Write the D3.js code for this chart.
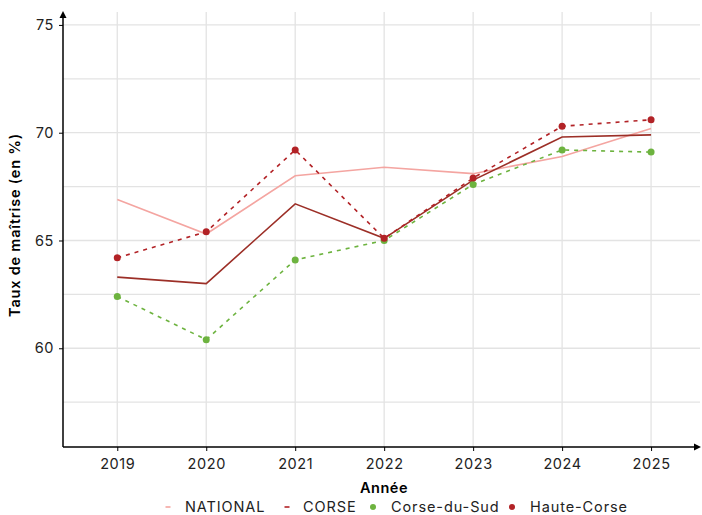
<!DOCTYPE html>
<html><head><meta charset="utf-8">
<script src="https://cdn.jsdelivr.net/npm/d3@7"></script>
<style>
body{margin:0;background:#fff;}
text{font-family:Inter, "Open Sans", sans-serif;}
</style></head>
<body><svg id="c" width="702" height="515"></svg>
<script>
const years = [2019, 2020, 2021, 2022, 2023, 2024, 2025];
const national = [66.9, 65.3, 68.0, 68.4, 68.1, 68.9, 70.2];
const corse = [63.3, 63.0, 66.7, 65.1, 67.8, 69.8, 69.9];
const corseDuSud = [62.4, 60.4, 64.1, 65.0, 67.6, 69.2, 69.1];
const hauteCorse = [64.2, 65.4, 69.2, 65.1, 67.9, 70.3, 70.6];
const yTicks = [60, 65, 70, 75];
const yMinor = [57.5, 62.5, 67.5, 72.5];
const legendLabels = ["NATIONAL", "CORSE", "Corse-du-Sud", "Haute-Corse"];

const svg = d3.select("#c");
const L = 63, R = 700, T = 12, B = 447;
const x = d3.scaleLinear().domain([2018.39, 2025.55]).range([L, R]);
const y = d3.scaleLinear().domain([55.42, 75.6]).range([B, T]);

const grid = svg.append("g");
[...yTicks, ...yMinor].forEach(v => {
  grid.append("line").attr("x1", L).attr("x2", R).attr("y1", y(v)).attr("y2", y(v))
    .attr("stroke", "#e3e3e3").attr("stroke-width", 1.3);
});
years.forEach(v => {
  grid.append("line").attr("x1", x(v)).attr("x2", x(v)).attr("y1", T).attr("y2", B)
    .attr("stroke", "#e3e3e3").attr("stroke-width", 1.3);
});

const line = d3.line().x((d, i) => x(years[i])).y(d => y(d));
const series = [
  {vals: national, color: "#f4a5a1", dash: null, pts: false},
  {vals: corse, color: "#9c2f27", dash: null, pts: false},
  {vals: corseDuSud, color: "#6db33f", dash: "4,5", pts: true},
  {vals: hauteCorse, color: "#b22226", dash: "4,5", pts: true}
];
series.forEach(s => {
  svg.append("path").attr("d", line(s.vals)).attr("fill", "none")
    .attr("stroke", s.color).attr("stroke-width", 1.6)
    .attr("stroke-dasharray", s.dash);
  if (s.pts) {
    svg.selectAll(null).data(s.vals).enter().append("circle")
      .attr("cx", (d, i) => x(years[i])).attr("cy", d => y(d)).attr("r", 3.5)
      .attr("fill", s.color);
  }
});

// axes
const ya = svg.append("g").attr("transform", `translate(${L},0)`)
  .call(d3.axisLeft(y).tickValues(yTicks).tickSize(4).tickFormat(d3.format("d")));
ya.select(".domain").remove();
ya.selectAll("line").attr("stroke", "#000");
ya.selectAll("text").attr("font-size", 14.5).attr("letter-spacing", "0.6px").attr("fill", "#222").attr("dx", -2);
const xa = svg.append("g").attr("transform", `translate(0,${B})`)
  .call(d3.axisBottom(x).tickValues(years).tickSize(4).tickFormat(d3.format("d")));
xa.select(".domain").remove();
xa.selectAll("line").attr("stroke", "#000");
xa.selectAll("text").attr("font-size", 14.5).attr("letter-spacing", "0.6px").attr("fill", "#222").attr("dy", "1.0em");

svg.append("line").attr("x1", L).attr("x2", L).attr("y1", B).attr("y2", T + 3).attr("stroke", "#000").attr("stroke-width", 1.5);
svg.append("line").attr("x1", L).attr("x2", R - 3).attr("y1", B).attr("y2", B).attr("stroke", "#000").attr("stroke-width", 1.5);
svg.append("path").attr("d", `M${L - 3.5},${T + 6}L${L},${T - 1}L${L + 3.5},${T + 6}Z`).attr("fill", "#000");
svg.append("path").attr("d", `M${R - 6},${B - 3.5}L${R + 1},${B}L${R - 6},${B + 3.5}Z`).attr("fill", "#000");

svg.append("text").attr("transform", `translate(20,225) rotate(-90)`)
  .attr("text-anchor", "middle").attr("font-size", 14.5).attr("font-weight", "600")
  .attr("letter-spacing", "0.8px")
  .text("Taux de maîtrise (en %)");
svg.append("text").attr("x", 384).attr("y", 493).attr("text-anchor", "middle")
  .attr("font-size", 14.5).attr("font-weight", "600").attr("letter-spacing", "0.5px").text("Année");

// legend
const lg = svg.append("g").attr("transform", "translate(0,507)");
const lx = [168, 287, 373, 512];
const tx = [185, 303, 391, 530];
legendLabels.forEach((lab, i) => {
  const s = series[i];
  if (s.pts) {
    lg.append("circle").attr("cx", lx[i]).attr("cy", 0).attr("r", 3).attr("fill", s.color);
  } else {
    lg.append("line").attr("x1", lx[i] - 2.5).attr("x2", lx[i] + 2.5).attr("y1", 0).attr("y2", 0)
      .attr("stroke", i === 1 ? "#b22226" : s.color).attr("stroke-width", 1.6);
  }
  lg.append("text").attr("x", tx[i]).attr("y", 5).attr("font-size", 14.5)
    .attr("letter-spacing", "0.9px").attr("fill", "#222").text(lab);
});
</script></body></html>
